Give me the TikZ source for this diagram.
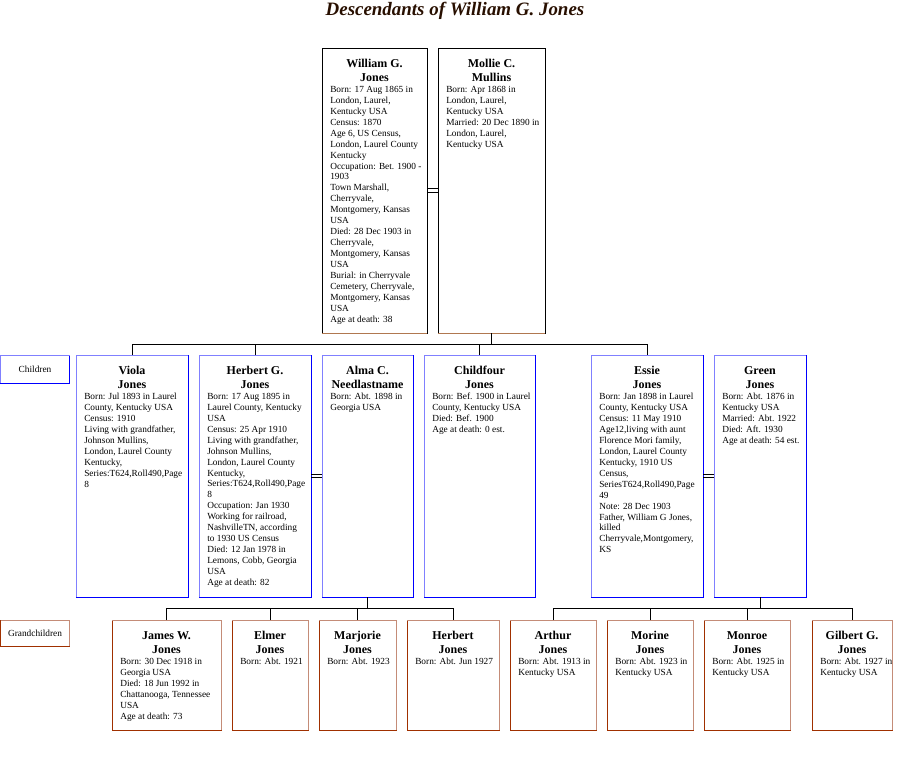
\documentclass[tikz,border=0pt]{standalone}
\usepackage{fontspec}
\setmainfont{Liberation Serif}
\usetikzlibrary{calc}
\definecolor{titlecol}{RGB}{40,15,0}
\definecolor{topmain}{RGB}{0,0,0}
\definecolor{topaccent}{RGB}{176,120,80}
\definecolor{kidmain}{RGB}{0,0,255}
\definecolor{kidaccent}{RGB}{128,128,255}
\definecolor{gkmain}{RGB}{160,48,0}
\definecolor{gkaccent}{RGB}{196,140,120}
\tikzset{
  famshape/.style={draw=#1main, line width=0.75pt, inner sep=0pt, outer sep=0pt, anchor=north west},
  nametext/.style={anchor=north, inner sep=0pt, align=center,
    font=\fontsize{9}{10.5}\selectfont\bfseries},
  bodytext/.style={anchor=north west, inner sep=0pt, align=left,
    font=\fontsize{7}{8.2}\selectfont},
  conn/.style={draw=black, line width=0.75pt},
  lbltext/.style={inner sep=0pt, font=\fontsize{7}{8.2}\selectfont},
  accentline/.style={draw=#1accent, line width=0.75pt},
}
% shaded sides of each kind of box
\newcommand{\accenttop}[1]{%
  \draw[accentline=top] (#1.south west) -- (#1.south east);}
\newcommand{\accentkid}[1]{%
  \draw[accentline=kid] (#1.south west) -- (#1.north west) -- (#1.north east);}
\newcommand{\accentgk}[1]{%
  \draw[accentline=gk] (#1.north west) -- (#1.north east) -- (#1.south east);}
% #1 node name, #2 kind, #3 x1, #4 y1, #5 x2, #6 y2, #7 name, #8 body
\newcommand{\famnode}[8]{%
  \pgfmathsetmacro\bw{(#5-#3)*0.75}%
  \pgfmathsetmacro\bh{(#6-#4)*0.75}%
  \node[famshape=#2, minimum width=\bw pt, minimum height=\bh pt] (#1) at (#3,#4) {};
  \csname accent#2\endcsname{#1}
  \node[nametext] (#1-n) at ([shift={(0,11)}]#1.north) {#7};
  \node[bodytext] (#1-b) at ([shift={(8,38)}]#1.north west) {#8};
}
% marriage link: two thin parallel lines between two boxes
\newcommand{\marry}[2]{%
  \draw[conn] ([yshift=1.15pt]#1.east) -- ([yshift=1.15pt]#2.west);
  \draw[conn] ([yshift=-1.15pt]#1.east) -- ([yshift=-1.15pt]#2.west);
}
\begin{document}
\begin{tikzpicture}[x=0.75pt, y=-0.75pt]
\useasboundingbox (0,0) rectangle (899,765);

\node[inner sep=0pt, text=titlecol, font=\fontsize{14.2}{16}\selectfont\bfseries\itshape] (title) at (455,11) {Descendants of William G. Jones};

% generation 1
\famnode{william}{top}{322}{48}{427}{333}{William G.\\Jones}{Born: 17 Aug 1865 in\\London, Laurel,\\Kentucky USA\\Census: 1870\\Age 6, US Census,\\London, Laurel County\\Kentucky\\Occupation: Bet. 1900 -\\1903\\Town Marshall,\\Cherryvale,\\Montgomery, Kansas\\USA\\Died: 28 Dec 1903 in\\Cherryvale,\\Montgomery, Kansas\\USA\\Burial: in Cherryvale\\Cemetery, Cherryvale,\\Montgomery, Kansas\\USA\\Age at death: 38}
\famnode{mollie}{top}{438}{48}{545}{333}{Mollie C.\\Mullins}{Born: Apr 1868 in\\London, Laurel,\\Kentucky USA\\Married: 20 Dec 1890 in\\London, Laurel,\\Kentucky USA}

% labels
\pgfmathsetmacro\lw{69*0.75}
\node[famshape=kid, minimum width=\lw pt, minimum height=21pt] (lblkids) at (0.5,355) {};
\accentkid{lblkids}
\node[lbltext] (lblkids-t) at (lblkids.center) {Children};
\node[famshape=gk, minimum width=\lw pt, minimum height=19.5pt] (lblgk) at (0.5,620) {};
\accentgk{lblgk}
\node[lbltext] (lblgk-t) at (lblgk.center) {Grandchildren};

% generation 2
\famnode{viola}{kid}{76}{355}{188}{597}{Viola\\Jones}{Born: Jul 1893 in Laurel\\County, Kentucky USA\\Census: 1910\\Living with grandfather,\\Johnson Mullins,\\London, Laurel County\\Kentucky,\\Series:T624,Roll490,Page\\8}
\famnode{herbert}{kid}{199}{355}{311}{597}{Herbert G.\\Jones}{Born: 17 Aug 1895 in\\Laurel County, Kentucky\\USA\\Census: 25 Apr 1910\\Living with grandfather,\\Johnson Mullins,\\London, Laurel County\\Kentucky,\\Series:T624,Roll490,Page\\8\\Occupation: Jan 1930\\Working for railroad,\\NashvilleTN, according\\to 1930 US Census\\Died: 12 Jan 1978 in\\Lemons, Cobb, Georgia\\USA\\Age at death: 82}
\famnode{alma}{kid}{322}{355}{413}{597}{Alma C.\\Needlastname}{Born: Abt. 1898 in\\Georgia USA}
\famnode{childfour}{kid}{424}{355}{535}{597}{Childfour\\Jones}{Born: Bef. 1900 in Laurel\\County, Kentucky USA\\Died: Bef. 1900\\Age at death: 0 est.}
\famnode{essie}{kid}{591}{355}{703}{597}{Essie\\Jones}{Born: Jan 1898 in Laurel\\County, Kentucky USA\\Census: 11 May 1910\\Age12,living with aunt\\Florence Mori family,\\London, Laurel County\\Kentucky, 1910 US\\Census,\\SeriesT624,Roll490,Page\\49\\Note: 28 Dec 1903\\Father, William G Jones,\\killed\\Cherryvale,Montgomery,\\KS}
\famnode{green}{kid}{714}{355}{806}{597}{Green\\Jones}{Born: Abt. 1876 in\\Kentucky USA\\Married: Abt. 1922\\Died: Aft. 1930\\Age at death: 54 est.}

% generation 3
\famnode{jamesw}{gk}{112}{620}{221}{730}{James W.\\Jones}{Born: 30 Dec 1918 in\\Georgia USA\\Died: 18 Jun 1992 in\\Chattanooga, Tennessee\\USA\\Age at death: 73}
\famnode{elmer}{gk}{232}{620}{308}{730}{Elmer\\Jones}{Born: Abt. 1921}
\famnode{marjorie}{gk}{319}{620}{396}{730}{Marjorie\\Jones}{Born: Abt. 1923}
\famnode{herbertj}{gk}{407}{620}{499}{730}{Herbert\\Jones}{Born: Abt. Jun 1927}
\famnode{arthur}{gk}{510}{620}{596}{730}{Arthur\\Jones}{Born: Abt. 1913 in\\Kentucky USA}
\famnode{morine}{gk}{607}{620}{693}{730}{Morine\\Jones}{Born: Abt. 1923 in\\Kentucky USA}
\famnode{monroe}{gk}{704}{620}{790}{730}{Monroe\\Jones}{Born: Abt. 1925 in\\Kentucky USA}
\famnode{gilbert}{gk}{812}{620}{892}{730}{Gilbert G.\\Jones}{Born: Abt. 1927 in\\Kentucky USA}

% marriages
\marry{william}{mollie}
\marry{herbert}{alma}
\marry{essie}{green}

% children of William and Mollie
\coordinate (bus1) at (0,344);
\draw[conn] (mollie.south) -- (mollie.south |- bus1);
\draw[conn] (viola.north) -- (viola.north |- bus1) -- (essie.north |- bus1) -- (essie.north);
\draw[conn] (herbert.north) -- (herbert.north |- bus1);
\draw[conn] (childfour.north) -- (childfour.north |- bus1);

% children of Herbert and Alma
\coordinate (bus2) at (0,608);
\draw[conn] (alma.south) -- (alma.south |- bus2);
\draw[conn] (jamesw.north) -- (jamesw.north |- bus2) -- (herbertj.north |- bus2) -- (herbertj.north);
\draw[conn] (elmer.north) -- (elmer.north |- bus2);
\draw[conn] (marjorie.north) -- (marjorie.north |- bus2);

% children of Essie and Green
\draw[conn] (green.south) -- (green.south |- bus2);
\draw[conn] (arthur.north) -- (arthur.north |- bus2) -- (gilbert.north |- bus2) -- (gilbert.north);
\draw[conn] (morine.north) -- (morine.north |- bus2);
\draw[conn] (monroe.north) -- (monroe.north |- bus2);
\end{tikzpicture}
\end{document}
